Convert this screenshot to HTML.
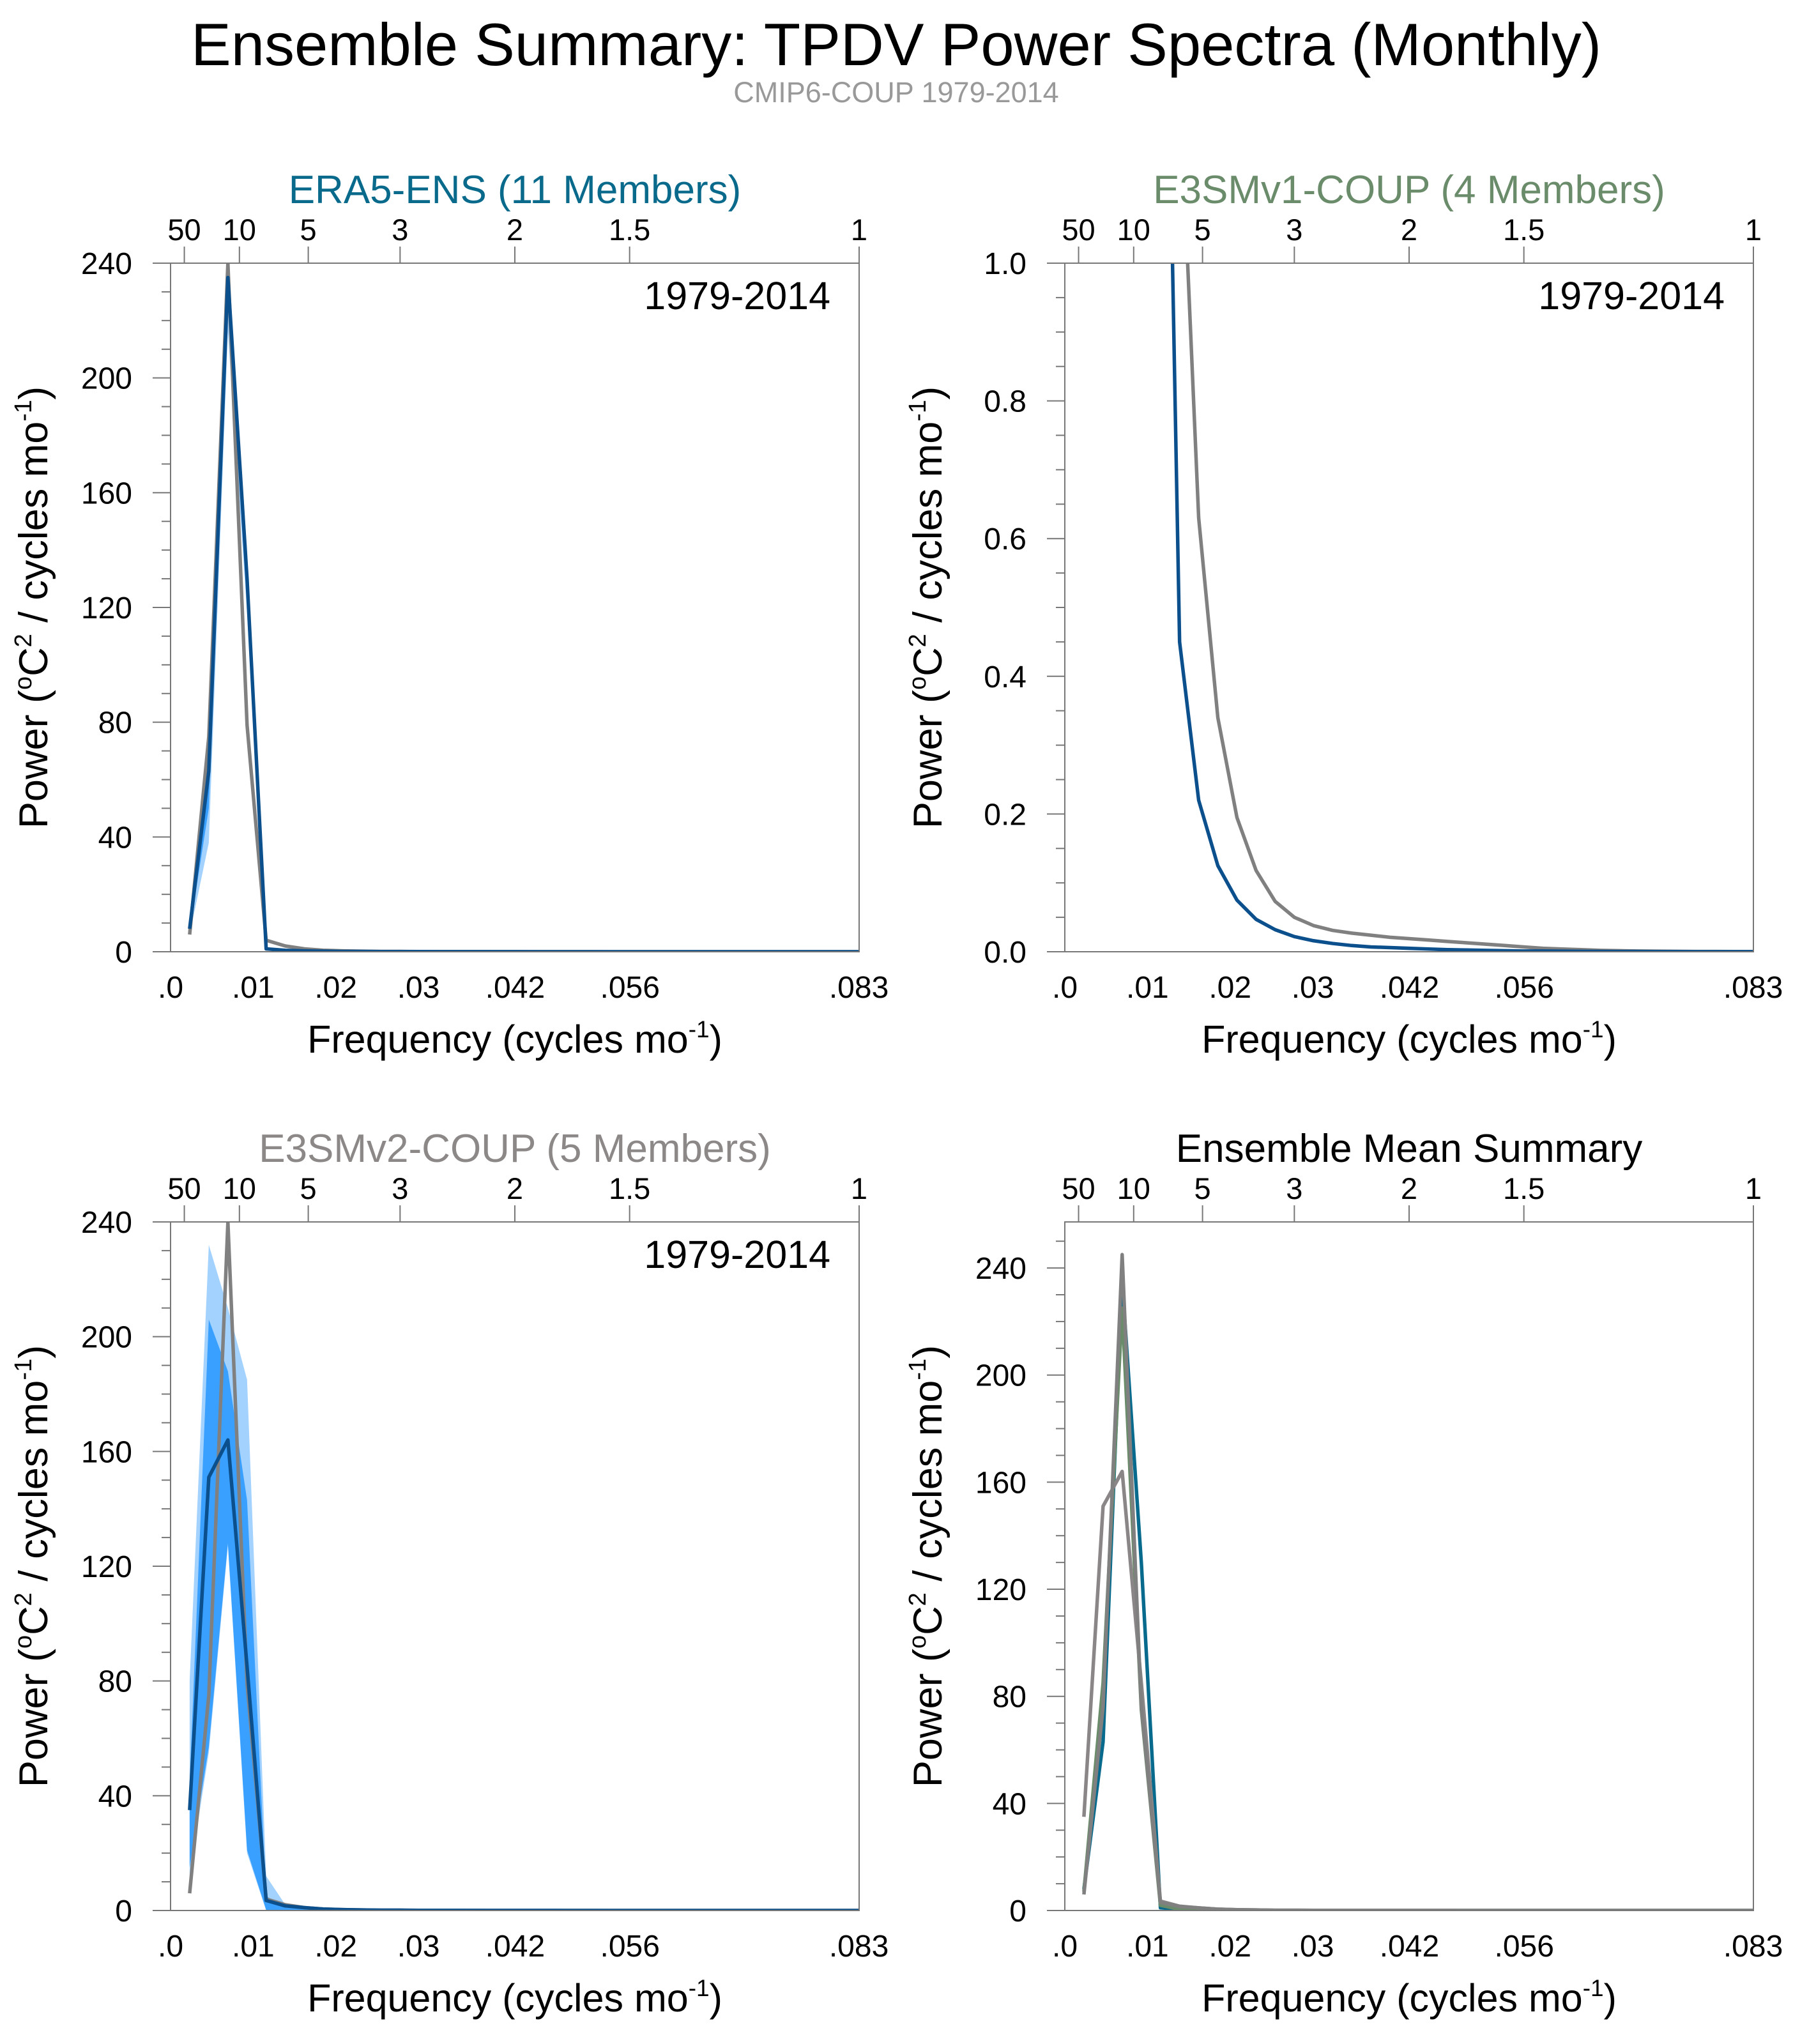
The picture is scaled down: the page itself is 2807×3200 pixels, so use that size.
<!DOCTYPE html>
<html><head><meta charset="utf-8"><title>Ensemble Summary: TPDV Power Spectra</title>
<style>
html,body{margin:0;padding:0;background:#fff;}
svg{display:block;font-family:"Liberation Sans",Arial,sans-serif;}
</style></head>
<body>
<svg id="chart" width="2807" height="3200" viewBox="0 0 2807 3200" xmlns="http://www.w3.org/2000/svg">
<rect width="2807" height="3200" fill="#fff"/>
<text x="1403" y="102" font-size="94" text-anchor="middle" fill="#000">Ensemble Summary: TPDV Power Spectra (Monthly)</text>
<text x="1403" y="160" font-size="45" text-anchor="middle" fill="#999">CMIP6-COUP 1979-2014</text>
</svg>
<script>
// ---- data ----
const freq = [0.00231,0.00463,0.00694,0.00926,0.01157,0.01389,0.01620,0.01852,0.02083,0.02315,0.02546,0.02778,0.03009,0.03241,0.03472,0.03704,0.03935,0.04167,0.04398,0.04630,0.04861,0.05093,0.05324,0.05556,0.05787,0.06019,0.06250,0.06481,0.06713,0.06944,0.07176,0.07407,0.07639,0.07870,0.08102,0.08333];
const obsSpec = [6,75,240,79,4,2,1,0.5,0.3,0.2,0.1,0.1,0.05,0.05,0.05,0.05,0.03,0.03,0.03,0.02,0.02,0.02,0.01,0.01,0.01,0.01,0.01,0.01,0,0,0,0,0,0,0,0];
const era5Mean = [8,63,235,130,1,0.5,0.3,0.2,0.1,0.1,0.05,0.05,0.05,0.03,0.03,0.02,0.02,0.02,0.01,0.01,0.01,0.01,0.01,0,0,0,0,0,0,0,0,0,0,0,0,0];
const era5LightLo = [6,38,216,118,0.8,0.4,0.2,0.1,0.1,0.05,0.05,0.03,0.03,0.02,0.02,0.01,0.01,0.01,0,0,0,0,0,0,0,0,0,0,0,0,0,0,0,0,0,0];
const era5LightHi = [9,74,240,140,1.5,0.7,0.4,0.3,0.2,0.1,0.1,0.05,0.05,0.05,0.03,0.03,0.02,0.02,0.02,0.01,0.01,0.01,0.01,0.01,0,0,0,0,0,0,0,0,0,0,0,0];
const era5DarkLo = [7,50,226,124,0.9,0.45,0.25,0.15,0.1,0.08,0.05,0.04,0.03,0.02,0.02,0.01,0.01,0.01,0,0,0,0,0,0,0,0,0,0,0,0,0,0,0,0,0,0];
const era5DarkHi = [8.5,68,238,135,1.2,0.6,0.35,0.25,0.15,0.1,0.08,0.05,0.04,0.04,0.03,0.02,0.02,0.01,0.01,0.01,0.01,0,0,0,0,0,0,0,0,0,0,0,0,0,0,0];
const v1Mean = [7,85,225,75,1.94,0.45,0.22,0.125,0.075,0.047,0.032,0.022,0.016,0.012,0.009,0.007,0.006,0.005,0.004,0.003,0.0025,0.002,0.0015,0.001,0.001,0.0008,0.0006,0.0005,0.0004,0.0003,0.0002,0.0002,0.0001,0.0001,0.0001,0.0001];
const v1Ref = [6,76,245,76,3,1.27,0.63,0.34,0.195,0.118,0.073,0.05,0.038,0.031,0.027,0.024,0.021,0.019,0.017,0.015,0.013,0.011,0.009,0.007,0.005,0.004,0.003,0.002,0.0015,0.001,0.0008,0.0006,0.0004,0.0003,0.0002,0.0001];
const v2Mean = [35,151,164,85,3.5,1.6,1,0.5,0.3,0.2,0.1,0.1,0.05,0.05,0.05,0.03,0.03,0.02,0.02,0.02,0.01,0.01,0.01,0.01,0,0,0,0,0,0,0,0,0,0,0,0];
const v2LightLo = [12,55,127,20,0,0,0,0,0,0,0,0,0,0,0,0,0,0,0,0,0,0,0,0,0,0,0,0,0,0,0,0,0,0,0,0,0];
const v2LightHi = [80,232,210,185,12,2,1,0.5,0.3,0.2,0.1,0.1,0.05,0.05,0.05,0.03,0.03,0.02,0.02,0.02,0.01,0.01,0.01,0.01,0,0,0,0,0,0,0,0,0,0,0,0];
const v2DarkLo = [15,57,128,21,0.2,0,0,0,0,0,0,0,0,0,0,0,0,0,0,0,0,0,0,0,0,0,0,0,0,0,0,0,0,0,0,0];
const v2DarkHi = [45,206,188,143,5,1,0.5,0.3,0.2,0.1,0.1,0.05,0.05,0.03,0.03,0.02,0.02,0.01,0.01,0.01,0.01,0,0,0,0,0,0,0,0,0,0,0,0,0,0,0];
const obsSpec4 = [6,76,245,76,3,1.5,1,0.5,0.3,0.2,0.1,0.1,0.05,0.05,0.05,0.03,0.03,0.02,0.02,0.02,0.01,0.01,0.01,0.01,0,0,0,0,0,0,0,0,0,0,0,0];
const bottomTickVals = [0,0.01,0.02,0.03,0.0417,0.0556,0.0833];
const bottomTickLabels = [".0",".01",".02",".03",".042",".056",".083"];
const topTickPeriods = [50,10,5,3,2,1.5,1];
const topTickLabels = ["50","10","5","3","2","1.5","1"];
const yTicks240 = [0,40,80,120,160,200,240];
const yTicksUnit = [0,0.2,0.4,0.6,0.8,1.0];
const yTicksUnitLabels = ["0.0","0.2","0.4","0.6","0.8","1.0"];

// ---- drawing ----
const NS = "http://www.w3.org/2000/svg";
const svg = document.getElementById('chart');
const FMAX = 1/12, SIZE = 1078;
function mk(tag, parent){ const e = document.createElementNS(NS, tag); (parent||svg).appendChild(e); return e; }

function panel(p){
  const g = mk('g');
  
  
  const X = f => p.x + f / FMAX * SIZE;
  const Y = v => p.y + SIZE - v / p.ymax * SIZE;
  const cid = 'clip-' + p.name;
  const defs = mk('defs', g);
  const cp = mk('clipPath', defs); cp.setAttribute('id', cid);
  const cr = mk('rect', cp);
  cr.setAttribute('x', p.x); cr.setAttribute('y', p.y); cr.setAttribute('width', SIZE); cr.setAttribute('height', SIZE);
  const plot = mk('g', g); plot.setAttribute('clip-path', 'url(#' + cid + ')');
  
  

  (p.bands||[]).forEach(b => {
    const pts = freq.map((f,i)=>X(f)+','+Y(b.hi[i])).concat(freq.map((f,i)=>X(f)+','+Y(b.lo[i])).reverse());
    const pg = mk('polygon', plot);
    pg.setAttribute('points', pts.join(' '));
    pg.setAttribute('fill', b.color);
    
    
  });
  p.lines.forEach(l => {
    const pl = mk('polyline', plot);
    pl.setAttribute('points', freq.map((f,i)=>X(f)+','+Y(l.data[i])).join(' '));
    pl.setAttribute('fill', 'none');
    pl.setAttribute('stroke', l.color);
    pl.setAttribute('stroke-width', 5.5);
    pl.setAttribute('stroke-linejoin', 'round');
    
    
  });

  const fr = mk('rect', g);
  fr.setAttribute('x', p.x); fr.setAttribute('y', p.y); fr.setAttribute('width', SIZE); fr.setAttribute('height', SIZE);
  fr.setAttribute('fill', 'none'); fr.setAttribute('stroke', '#777'); fr.setAttribute('stroke-width', 2);
  
  

  for (let v = 0; v <= p.ymax + 1e-9; v += p.minor) {
    const isMajor = p.yTicks.some(t => Math.abs(t - v) < 1e-6);
    const ln = mk('line', g);
    ln.setAttribute('x1', p.x - (isMajor ? 28 : 14)); ln.setAttribute('x2', p.x);
    ln.setAttribute('y1', Y(v)); ln.setAttribute('y2', Y(v));
    ln.setAttribute('stroke', '#777'); ln.setAttribute('stroke-width', 2);
  }
  p.yTicks.forEach((v,i) => {
    const t = mk('text', g);
    t.setAttribute('x', p.x - 60); t.setAttribute('y', Y(v) + 17);
    t.setAttribute('font-size', 48); t.setAttribute('text-anchor', 'end');
    t.textContent = p.yLabels[i];
    
    
  });
  bottomTickVals.forEach((v,i) => {
    const t = mk('text', g);
    t.setAttribute('x', X(v)); t.setAttribute('y', p.y + SIZE + 72);
    t.setAttribute('font-size', 48); t.setAttribute('text-anchor', 'middle');
    t.textContent = bottomTickLabels[i];
    
    
  });
  topTickPeriods.forEach((per,i) => {
    const xx = X(1/(per*12));
    const ln = mk('line', g);
    ln.setAttribute('x1', xx); ln.setAttribute('x2', xx); ln.setAttribute('y1', p.y - 26); ln.setAttribute('y2', p.y);
    ln.setAttribute('stroke', '#777'); ln.setAttribute('stroke-width', 2);
    const t = mk('text', g);
    t.setAttribute('x', xx); t.setAttribute('y', p.y - 36);
    t.setAttribute('font-size', 47); t.setAttribute('text-anchor', 'middle');
    t.textContent = topTickLabels[i];
    
    
  });
  const tt = mk('text', g);
  tt.setAttribute('x', p.x + SIZE/2); tt.setAttribute('y', p.y - 94);
  tt.setAttribute('font-size', 62); tt.setAttribute('text-anchor', 'middle'); tt.setAttribute('fill', p.titleColor);
  tt.textContent = p.title;
  
  
  if (p.period) {
    const pt = mk('text', g);
    pt.setAttribute('x', p.x + SIZE - 45); pt.setAttribute('y', p.y + 72);
    pt.setAttribute('font-size', 61); pt.setAttribute('text-anchor', 'end');
    pt.textContent = '1979-2014';
    
    
  }
  const xt = mk('text', g);
  xt.setAttribute('x', p.x + SIZE/2); xt.setAttribute('y', p.y + SIZE + 158);
  xt.setAttribute('font-size', 61); xt.setAttribute('text-anchor', 'middle');
  xt.innerHTML = 'Frequency (cycles mo<tspan dy="-24" font-size="37">-1</tspan><tspan dy="24">)</tspan>';
  
  
  const yt = mk('text', g);
  const cx = p.x - 193, cy = p.y + SIZE/2;
  yt.setAttribute('x', cx); yt.setAttribute('y', cy);
  yt.setAttribute('transform', 'rotate(-90 ' + cx + ' ' + cy + ')');
  yt.setAttribute('font-size', 63); yt.setAttribute('text-anchor', 'middle');
  yt.innerHTML = 'Power (<tspan dy="-25" font-size="38">o</tspan><tspan dy="25">C</tspan><tspan dy="-25" font-size="38">2</tspan><tspan dy="25"> / cycles mo</tspan><tspan dy="-25" font-size="38">-1</tspan><tspan dy="25">)</tspan>';
  
  
}

panel({name:'panel-era5', x:267, y:412, ymax:240, minor:10, yTicks:yTicks240, yLabels:yTicks240.map(String),
  title:'ERA5-ENS (11 Members)', titleColor:'#0a6a8c', period:true,
  bands:[{name:'era5-spread-light',color:'#a3d2ff',lo:era5LightLo,hi:era5LightHi},{name:'era5-spread-dark',color:'#3aa0ff',lo:era5DarkLo,hi:era5DarkHi}],
  lines:[{name:'obs-line',color:'#808080',data:obsSpec},{name:'era5-mean-line',color:'#0b4f8c',data:era5Mean}]});
panel({name:'panel-e3smv1', x:1667, y:412, ymax:1.0, minor:0.05, yTicks:yTicksUnit, yLabels:yTicksUnitLabels,
  title:'E3SMv1-COUP (4 Members)', titleColor:'#6a8c6a', period:true,
  lines:[{name:'reference-line',color:'#808080',data:v1Ref},{name:'e3smv1-mean-line',color:'#0b4f8c',data:v1Mean}]});
panel({name:'panel-e3smv2', x:267, y:1913, ymax:240, minor:10, yTicks:yTicks240, yLabels:yTicks240.map(String),
  title:'E3SMv2-COUP (5 Members)', titleColor:'#8c8888', period:true,
  bands:[{name:'e3smv2-spread-light',color:'#a3d2ff',lo:v2LightLo,hi:v2LightHi},{name:'e3smv2-spread-dark',color:'#3aa0ff',lo:v2DarkLo,hi:v2DarkHi}],
  lines:[{name:'obs-line',color:'#808080',data:obsSpec},{name:'e3smv2-mean-line',color:'#0b4f8c',data:v2Mean}]});
panel({name:'panel-ensemble-mean', x:1667, y:1913, ymax:257.2, minor:10, yTicks:yTicks240, yLabels:yTicks240.map(String),
  title:'Ensemble Mean Summary', titleColor:'#000', period:false,
  lines:[{name:'era5-mean-line',color:'#086a8c',data:era5Mean},{name:'e3smv1-mean-line',color:'#6a8c6a',data:v1Mean},
         {name:'e3smv2-mean-line',color:'#8a8587',data:v2Mean},{name:'obs-line',color:'#808080',data:obsSpec4}]});
</script>
</body></html>
